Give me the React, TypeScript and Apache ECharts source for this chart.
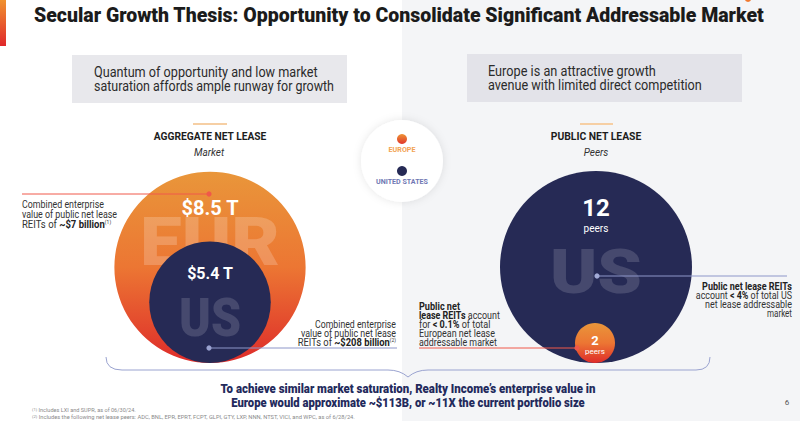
import React, { useEffect, useRef } from "react";
import * as echarts from "echarts";

// ---- data ----
const TITLE = "Secular Growth Thesis: Opportunity to Consolidate Significant Addressable Market";
const marketRegions = ["EUR", "US"];
const marketValues = [8.5, 5.4]; // $ trillion, aggregate net lease market
const peerRegions = ["US", "EUR"];
const peerCounts = [12, 2]; // public net lease peers
const legendItems = ["EUROPE", "UNITED STATES"];
const boxLeftLines = ["Quantum of opportunity and low market", "saturation affords ample runway for growth"];
const boxRightLines = ["Europe is an attractive growth", "avenue with limited direct competition"];
const bottomLines = [
  "To achieve similar market saturation, Realty Income\u2019s enterprise value in",
  "Europe would approximate ~$113B, or ~11X the current portfolio size",
];
const footnotes = [
  "Includes LXI and SUPR, as of 06/30/24.",
  "Includes the following net lease peers: ADC, BNL, EPR, EPRT, FCPT, GLPI, GTY, LXP, NNN, NTST, VICI, and WPC, as of 6/28/24.",
];

const NAVY = "#262a55";
const FAM = "Roboto";
const AS = 10.5; // annotation font size

const orangeGrad = () =>
  new echarts.graphic.LinearGradient(0, 0, 0, 1, [
    { offset: 0, color: "#e9963a" },
    { offset: 0.5, color: "#ec7633" },
    { offset: 1, color: "#de2c2a" },
  ]);

let mctx: CanvasRenderingContext2D | null = null;
function measure(text: string, font: string) {
  if (!mctx) mctx = document.createElement("canvas").getContext("2d");
  mctx!.font = font;
  return mctx!.measureText(text).width;
}

function T(text: string, x: number, y: number, o: any = {}) {
  const size = o.size || 10;
  const weight = o.weight || "normal";
  const fstyle = o.fstyle || "normal";
  let sx = 1;
  if (o.w) {
    sx = o.w / measure(o.measure || text, `${fstyle} ${weight} ${size}px ${FAM}`);
  }
  return {
    type: "text",
    x,
    y,
    scaleX: sx,
    z: o.z ?? 20,
    silent: true,
    style: {
      text,
      fontSize: size,
      fontWeight: weight,
      fontStyle: fstyle,
      fontFamily: FAM,
      fill: o.color || "#333",
      align: o.align || "left",
      verticalAlign: "middle",
      rich: o.rich,
    },
  };
}

function line(x1: number, y1: number, x2: number, y2: number, stroke: string, lw = 1, z = 15) {
  return { type: "line", z, silent: true, shape: { x1, y1, x2, y2 }, style: { stroke, lineWidth: lw } };
}
function dot(cx: number, cy: number, r: number, fill: any, z = 16) {
  return { type: "circle", z, silent: true, shape: { cx, cy, r }, style: { fill } };
}
const boldRich = { b: { fontWeight: "bold", fontSize: AS, fill: "#222", fontFamily: FAM } };

export default function App() {
  const ref = useRef<HTMLDivElement>(null);
  useEffect(() => {
    if (!ref.current) return;
    const chart = echarts.init(ref.current, null, { renderer: "svg" });

    const BASE = 363; // common bottom of the circles
    const marketDiam = (v: number) => v * 22.5;
    const peerDiam = (n: number) => 40 + ((n - 2) * 152) / 10;
    const RED = "#f0584a";
    const BLUE = "#8d96c9";

    const series: any[] = [];
    marketRegions.forEach((r, i) => {
      const d = marketDiam(marketValues[i]);
      const isEur = r === "EUR";
      series.push({
        type: "scatter",
        name: "Market " + r,
        z: 1 + i * 2,
        silent: true,
        symbol: "circle",
        symbolSize: d,
        data: [[210, BASE - d / 2, marketValues[i]]],
        itemStyle: { color: isEur ? orangeGrad() : NAVY, opacity: 1 },
        label: {
          show: true,
          position: "inside",
          offset: [0, isEur ? -59 : -29],
          formatter: (p: any) => `$${p.value[2]} T`,
          color: "#fff",
          fontFamily: FAM,
          fontWeight: "bold",
          fontSize: isEur ? 20 : 16,
        },
      });
    });
    peerRegions.forEach((r, i) => {
      const d = peerDiam(peerCounts[i]);
      const isUs = r === "US";
      series.push({
        type: "scatter",
        name: "Peers " + r,
        z: 1 + i * 2,
        silent: true,
        symbol: "circle",
        symbolSize: d,
        data: [[isUs ? 596 : 595, BASE - d / 2, peerCounts[i]]],
        itemStyle: { color: isUs ? NAVY : orangeGrad(), opacity: 1 },
        label: {
          show: true,
          position: "inside",
          offset: [0, isUs ? -52 : 2],
          formatter: (p: any) => `{n|${p.value[2]}}\n{p|peers}`,
          rich: isUs
            ? {
                n: { fontSize: 24, fontWeight: "bold", color: "#fff", lineHeight: 26, fontFamily: FAM, align: "center" },
                p: { fontSize: 10, color: "#fff", lineHeight: 14, fontFamily: FAM, align: "center" },
              }
            : {
                n: { fontSize: 13, fontWeight: "bold", color: "#fff", lineHeight: 12, fontFamily: FAM, align: "center" },
                p: { fontSize: 8, color: "#fff", lineHeight: 10, fontFamily: FAM, align: "center" },
              },
        },
      });
    });

    const g: any[] = [];
    // backgrounds
    g.push({ type: "rect", z: 0, silent: true, shape: { x: 402, y: 0, width: 398, height: 421 }, style: { fill: "#f4f5f7" } });
    g.push({
      type: "rect", z: 0, silent: true, shape: { x: 0, y: 0, width: 6, height: 46 },
      style: { fill: new echarts.graphic.LinearGradient(0, 0, 0, 1, [{ offset: 0, color: "#f0922f" }, { offset: 1, color: "#e0282b" }]) },
    });
    g.push(dot(748, -1, 3, "#f07a30", 1));
    // title
    g.push(T(TITLE, 34, 15, { size: 21, weight: "900", color: "#1b1b1b", w: 731 }));
    // boxes
    g.push({ type: "rect", z: 1, silent: true, shape: { x: 72, y: 55, width: 275, height: 48 }, style: { fill: "#e8e8ec" } });
    g.push({ type: "rect", z: 1, silent: true, shape: { x: 467, y: 54, width: 275, height: 48 }, style: { fill: "#e3e3e9" } });
    g.push(T(boxLeftLines[0], 94, 72, { size: 14, color: "#2b2b2b", w: 224 }));
    g.push(T(boxLeftLines[1], 94, 86, { size: 14, color: "#2b2b2b", w: 240 }));
    g.push(T(boxRightLines[0], 488, 71, { size: 14, color: "#2b2b2b", w: 168 }));
    g.push(T(boxRightLines[1], 488, 85, { size: 14, color: "#2b2b2b", w: 214 }));
    // headings
    g.push(line(193, 124, 227, 124, "#f6cfa4", 2));
    g.push(line(580, 124, 613, 124, "#f6cfa4", 2));
    g.push(T("AGGREGATE NET LEASE", 210, 136, { size: 11, weight: "bold", color: "#1d1d1d", align: "center", w: 113 }));
    g.push(T("PUBLIC NET LEASE", 596, 136, { size: 11, weight: "bold", color: "#1d1d1d", align: "center", w: 91 }));
    g.push(T("Market", 209, 152, { size: 10, fstyle: "italic", color: "#333", align: "center" }));
    g.push(T("Peers", 596, 152, { size: 10, fstyle: "italic", color: "#333", align: "center" }));
    // watermarks
    g.push(T(marketRegions[0], 210, 243, { size: 66, weight: "900", color: "rgba(255,255,255,0.2)", align: "center", z: 2, w: 140 }));
    g.push(T(marketRegions[1], 210, 318, { size: 53, weight: "900", color: "rgba(255,255,255,0.15)", align: "center", z: 4, w: 62 }));
    g.push(T(peerRegions[0], 596, 272, { size: 62, weight: "900", color: "rgba(255,255,255,0.15)", align: "center", z: 4, w: 92 }));

    // legend badge
    g.push({
      type: "circle", z: 8, silent: true, shape: { cx: 402, cy: 161, r: 41 },
      style: { fill: "#fff", shadowBlur: 8, shadowColor: "rgba(0,0,0,0.10)" },
    });
    g.push(dot(402, 139, 5, new echarts.graphic.LinearGradient(0, 0, 0, 1, [{ offset: 0, color: "#ee9436" }, { offset: 1, color: "#e0352b" }]), 9));
    g.push(T(legendItems[0], 402, 150, { size: 7, weight: "bold", color: "#f2a352", align: "center", z: 9, w: 27 }));
    g.push(dot(402, 171, 5, NAVY, 9));
    g.push(T(legendItems[1], 402, 182, { size: 7, weight: "bold", color: "#6f78b3", align: "center", z: 9, w: 52 }));

    // left annotations
    g.push(line(22, 194, 209, 194, RED));
    g.push(dot(209, 194, 2.6, RED));
    g.push(T("Combined enterprise", 22, 204, { size: AS, color: "#333", w: 82 }));
    g.push(T("value of public net lease", 22, 214, { size: AS, color: "#333", w: 95 }));
    g.push(T("REITs of {b|~$7 billion}{s|(1)}", 22, 224, {
      size: AS, color: "#333", w: 94, measure: "REITs of ~$7 billion(1)",
      rich: { b: boldRich.b, s: { fontSize: 5.5, fill: "#333", fontFamily: FAM, padding: [0, 0, 4, 0] } },
    }));
    g.push(line(209, 348, 397, 348, BLUE));
    g.push(dot(209, 348, 2.6, "#9aa2d0"));
    g.push(T("Combined enterprise", 396, 324, { size: AS, color: "#333", align: "right", w: 81 }));
    g.push(T("value of public net lease", 396, 333, { size: AS, color: "#333", align: "right", w: 95 }));
    g.push(T("REITs of {b|~$208 billion}{s|(2)}", 396, 342, {
      size: AS, color: "#333", align: "right", w: 103, measure: "REITs of ~$208 billion(2)",
      rich: { b: boldRich.b, s: { fontSize: 5.5, fill: "#333", fontFamily: FAM, padding: [0, 0, 4, 0] } },
    }));

    // right annotations
    g.push(line(419, 348, 577, 348, RED));
    g.push(dot(577, 348, 2.6, RED));
    g.push(T("{b|Public net}", 419, 306, { size: AS, w: 41, measure: "Public net", weight: "bold", rich: boldRich }));
    g.push(T("{b|lease REITs} account", 419, 315, { size: AS, w: 80, measure: "lease REITs account", rich: boldRich }));
    g.push(T("for {b|< 0.1%} of total", 419, 324, { size: AS, w: 71, measure: "for < 0.1% of total", rich: boldRich }));
    g.push(T("European net lease", 419, 333, { size: AS, w: 76 }));
    g.push(T("addressable market", 419, 342, { size: AS, w: 78 }));

    g.push(line(597, 276, 787, 276, BLUE));
    g.push(dot(597, 276, 2.6, "#a3abd6"));
    g.push(T("Public net lease REITs", 792, 286, { size: AS, weight: "bold", color: "#222", align: "right", w: 90 }));
    g.push(T("account {b|< 4%} of total US", 792, 295, { size: AS, align: "right", w: 96, measure: "account < 4% of total US", rich: boldRich }));
    g.push(T("net lease addressable", 792, 304, { size: AS, align: "right", w: 87 }));
    g.push(T("market", 792, 313, { size: AS, align: "right", w: 25 }));

    // bracket
    const BR = "#9aa3d0";
    g.push({ type: "bezierCurve", z: 15, silent: true, shape: { x1: 106, y1: 357, cpx1: 106, cpy1: 370, x2: 122, y2: 370 }, style: { stroke: BR, lineWidth: 1, fill: "none" } });
    g.push(line(122, 370, 388, 370, BR));
    g.push({ type: "bezierCurve", z: 15, silent: true, shape: { x1: 388, y1: 370, cpx1: 400, cpy1: 370, x2: 408, y2: 377 }, style: { stroke: BR, lineWidth: 1, fill: "none" } });
    g.push({ type: "bezierCurve", z: 15, silent: true, shape: { x1: 408, y1: 377, cpx1: 416, cpy1: 370, x2: 428, y2: 370 }, style: { stroke: BR, lineWidth: 1, fill: "none" } });
    g.push(line(428, 370, 696, 370, BR));
    g.push({ type: "bezierCurve", z: 15, silent: true, shape: { x1: 696, y1: 370, cpx1: 710, cpy1: 370, x2: 710, y2: 357 }, style: { stroke: BR, lineWidth: 1, fill: "none" } });

    // bottom statement
    g.push(T(bottomLines[0], 408, 389, { size: 12.5, weight: "900", color: "#232a5c", align: "center", w: 375 }));
    g.push(T(bottomLines[1], 408, 403, { size: 12.5, weight: "900", color: "#232a5c", align: "center", w: 354 }));
    // footnotes
    g.push(T("{s|(1)} " + footnotes[0], 32, 410, { size: 5.5, color: "#8a8a8a", w: 106, measure: "(1) " + footnotes[0], rich: { s: { fontSize: 4, fill: "#8a8a8a", fontFamily: FAM } } }));
    g.push(T("{s|(2)} " + footnotes[1], 32, 417, { size: 5.5, color: "#8a8a8a", w: 326, measure: "(2) " + footnotes[1], rich: { s: { fontSize: 4, fill: "#8a8a8a", fontFamily: FAM } } }));
    g.push(T("6", 787, 402, { size: 8, color: "#555", align: "center" }));

    chart.setOption({
      animation: false,
      backgroundColor: "#ffffff",
      grid: { left: 0, top: 0, right: 0, bottom: 0 },
      xAxis: { type: "value", min: 0, max: 800, show: false },
      yAxis: { type: "value", min: 0, max: 421, inverse: true, show: false },
      series,
      graphic: { elements: g },
    });
    return () => chart.dispose();
  }, []);
  return <div ref={ref} style={{ position: "absolute", left: 0, top: 0, width: 800, height: 421 }} />;
}
